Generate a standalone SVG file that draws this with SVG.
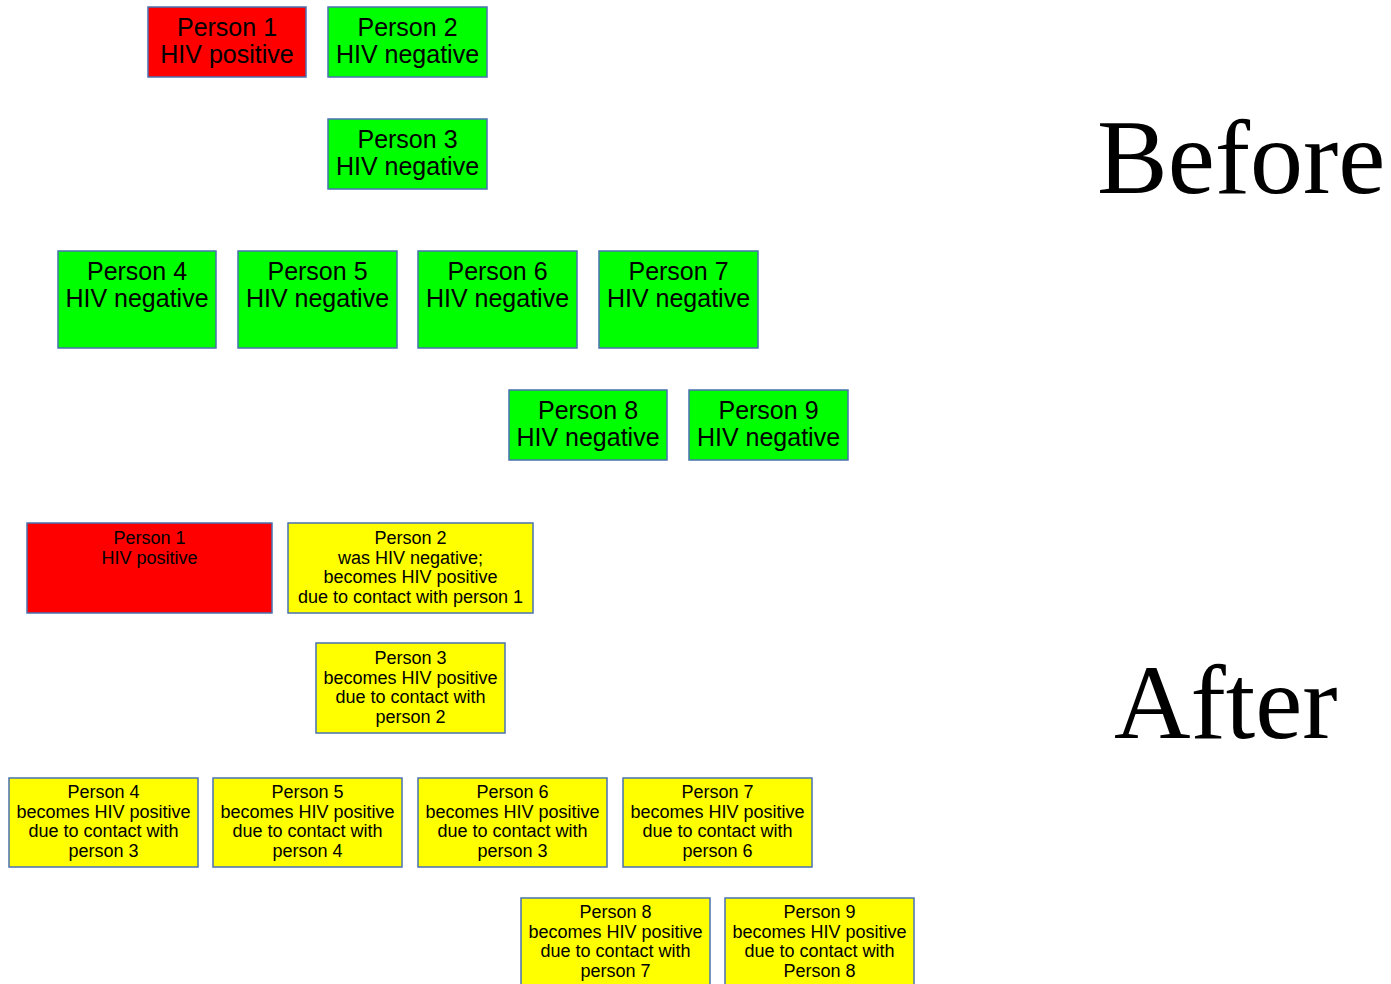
<svg xmlns="http://www.w3.org/2000/svg" width="1391" height="984" viewBox="0 0 1391 984">
<style>
rect{stroke:#4a72b0;stroke-width:1.5}
.r{fill:#ff0000}.g{fill:#00ff00}.y{fill:#ffff00}
text{font-family:"Liberation Sans",Arial,sans-serif;fill:#000;text-anchor:middle}
.b{font-size:25px}
.s{font-size:18px}
.big{font-family:"Liberation Serif","Times New Roman",serif;font-size:106px;text-anchor:start}
</style>
<rect width="1391" height="984" fill="#fff" style="stroke:none"/>
<g id="before-p1"><rect class="r" x="148" y="7" width="158" height="70"/><text class="b" x="227" y="36">Person 1</text><text class="b" x="227" y="63">HIV positive</text></g>
<g id="before-p2"><rect class="g" x="328" y="7" width="159" height="70"/><text class="b" x="407.5" y="36">Person 2</text><text class="b" x="407.5" y="63">HIV negative</text></g>
<g id="before-p3"><rect class="g" x="328" y="119" width="159" height="70"/><text class="b" x="407.5" y="148">Person 3</text><text class="b" x="407.5" y="175">HIV negative</text></g>
<g id="before-p4"><rect class="g" x="58" y="251" width="158" height="97"/><text class="b" x="137" y="280">Person 4</text><text class="b" x="137" y="307">HIV negative</text></g>
<g id="before-p5"><rect class="g" x="238" y="251" width="159" height="97"/><text class="b" x="317.5" y="280">Person 5</text><text class="b" x="317.5" y="307">HIV negative</text></g>
<g id="before-p6"><rect class="g" x="418" y="251" width="159" height="97"/><text class="b" x="497.5" y="280">Person 6</text><text class="b" x="497.5" y="307">HIV negative</text></g>
<g id="before-p7"><rect class="g" x="599" y="251" width="159" height="97"/><text class="b" x="678.5" y="280">Person 7</text><text class="b" x="678.5" y="307">HIV negative</text></g>
<g id="before-p8"><rect class="g" x="509" y="390" width="158" height="70"/><text class="b" x="588" y="419">Person 8</text><text class="b" x="588" y="446">HIV negative</text></g>
<g id="before-p9"><rect class="g" x="689" y="390" width="159" height="70"/><text class="b" x="768.5" y="419">Person 9</text><text class="b" x="768.5" y="446">HIV negative</text></g>
<g id="label-before"><text class="big" x="1097" y="193">Before</text></g>
<g id="after-p1"><rect class="r" x="27" y="523" width="245" height="90"/><text class="s" x="149.5" y="544">Person 1</text><text class="s" x="149.5" y="563.5">HIV positive</text></g>
<g id="after-p2"><rect class="y" x="288" y="523" width="245" height="90"/><text class="s" x="410.5" y="544">Person 2</text><text class="s" x="410.5" y="563.5">was HIV negative;</text><text class="s" x="410.5" y="583">becomes HIV positive</text><text class="s" x="410.5" y="602.5">due to contact with person 1</text></g>
<g id="after-p3"><rect class="y" x="316" y="643" width="189" height="90"/><text class="s" x="410.5" y="664">Person 3</text><text class="s" x="410.5" y="683.5">becomes HIV positive</text><text class="s" x="410.5" y="703">due to contact with</text><text class="s" x="410.5" y="722.5">person 2</text></g>
<g id="after-p4"><rect class="y" x="9" y="778" width="189" height="89"/><text class="s" x="103.5" y="798">Person 4</text><text class="s" x="103.5" y="817.5">becomes HIV positive</text><text class="s" x="103.5" y="837">due to contact with</text><text class="s" x="103.5" y="856.5">person 3</text></g>
<g id="after-p5"><rect class="y" x="213" y="778" width="189" height="89"/><text class="s" x="307.5" y="798">Person 5</text><text class="s" x="307.5" y="817.5">becomes HIV positive</text><text class="s" x="307.5" y="837">due to contact with</text><text class="s" x="307.5" y="856.5">person 4</text></g>
<g id="after-p6"><rect class="y" x="418" y="778" width="189" height="89"/><text class="s" x="512.5" y="798">Person 6</text><text class="s" x="512.5" y="817.5">becomes HIV positive</text><text class="s" x="512.5" y="837">due to contact with</text><text class="s" x="512.5" y="856.5">person 3</text></g>
<g id="after-p7"><rect class="y" x="623" y="778" width="189" height="89"/><text class="s" x="717.5" y="798">Person 7</text><text class="s" x="717.5" y="817.5">becomes HIV positive</text><text class="s" x="717.5" y="837">due to contact with</text><text class="s" x="717.5" y="856.5">person 6</text></g>
<g id="after-p8"><rect class="y" x="521" y="898" width="189" height="92"/><text class="s" x="615.5" y="918">Person 8</text><text class="s" x="615.5" y="937.5">becomes HIV positive</text><text class="s" x="615.5" y="957">due to contact with</text><text class="s" x="615.5" y="976.5">person 7</text></g>
<g id="after-p9"><rect class="y" x="725" y="898" width="189" height="92"/><text class="s" x="819.5" y="918">Person 9</text><text class="s" x="819.5" y="937.5">becomes HIV positive</text><text class="s" x="819.5" y="957">due to contact with</text><text class="s" x="819.5" y="976.5">Person 8</text></g>
<g id="label-after"><text class="big" x="1114" y="738">After</text></g>
<g id="connectors"></g>
</svg>
